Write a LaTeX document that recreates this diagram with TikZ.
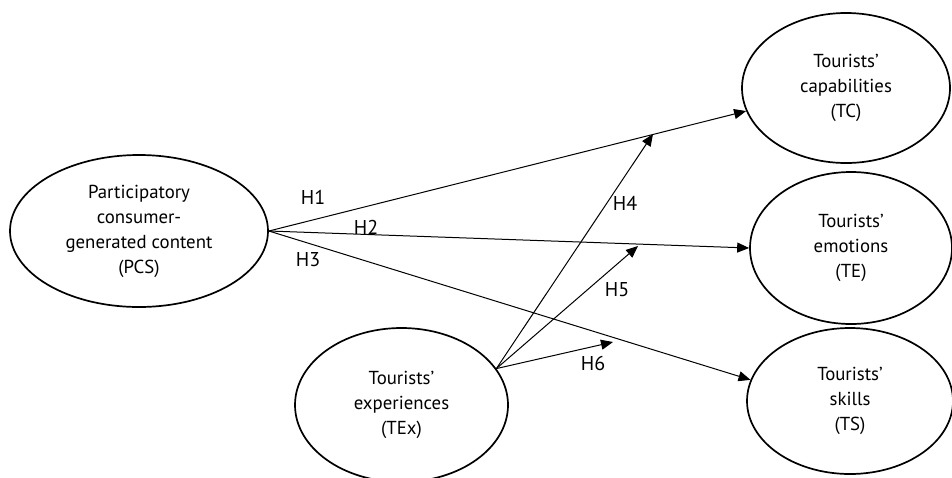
\documentclass[tikz,border=0pt]{standalone}
\usepackage{fontspec}
\setmainfont{PT Sans}
\usetikzlibrary{shapes.geometric,arrows.meta,calc}
\begin{document}
\begin{tikzpicture}[x=0.5pt,y=-0.5pt,
  construct/.style={ellipse,draw,line width=0.85pt,inner sep=0pt,align=center,
    font=\fontsize{9.4pt}{12.5pt}\selectfont},
  path/.style={line width=0.5pt,-{Triangle[length=6pt,width=5pt]}},
  hlabel/.style={font=\fontsize{10pt}{12pt}\selectfont,inner sep=0pt}]
\useasboundingbox (0,0) rectangle (952,477);
\node[construct,minimum width=129pt,minimum height=76pt] (pcs) at (139,231)
  {Participatory\\consumer-\\generated content\\(PCS)};
\node[construct,minimum width=104pt,minimum height=75pt] (tc) at (846,88)
  {Tourists’\\capabilities\\(TC)};
\node[construct,minimum width=101pt,minimum height=76pt] (te) at (851,248)
  {Tourists’\\emotions\\(TE)};
\node[construct,minimum width=103pt,minimum height=73pt] (ts) at (850,401)
  {Tourists’\\skills\\(TS)};
\node[construct,minimum width=106.5pt,minimum height=77pt] (tex) at (401.5,405)
  {Tourists’\\experiences\\(TEx)};
\coordinate (h4e) at (653,134);
\coordinate (h5e) at (638,246);
\coordinate (h6e) at (613,342);
\draw[path] (pcs.east) -- (tc.193);
\draw[path] (pcs.east) -- (te.west);
\draw[path] (pcs.east) -- (ts.168);
\draw[path] (tex.21) -- (h4e);
\draw[path] (tex.21) -- (h5e);
\draw[path] (tex.21) -- (h6e);
\node[hlabel] (l1) at (313,197) {H1};
\node[hlabel] (l2) at (366,227) {H2};
\node[hlabel] (l3) at (308,260) {H3};
\node[hlabel] (l4) at (625,203) {H4};
\node[hlabel] (l5) at (617,290) {H5};
\node[hlabel] (l6) at (593,363) {H6};
\end{tikzpicture}
\end{document}
